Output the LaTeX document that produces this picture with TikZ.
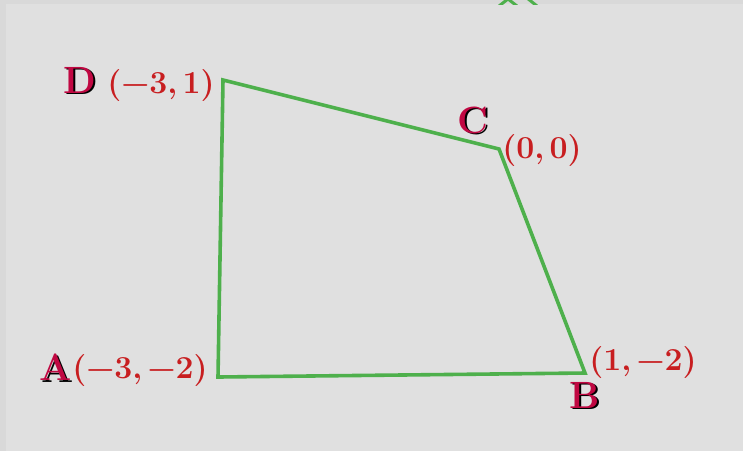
\documentclass[tikz,border=0pt]{standalone}
\usepackage{fontspec}
\usetikzlibrary{positioning, calc}
\definecolor{bgcol}{RGB}{224,224,224}
\definecolor{edgecol}{RGB}{217,217,217}
\definecolor{quadcol}{RGB}{78,176,76}
\definecolor{vertcol}{RGB}{192,8,66}
\definecolor{coordcol}{RGB}{200,30,32}
\newcommand{\shadowed}[1]{\rlap{\kern1.6pt\raisebox{-1.6pt}{\color{black}#1}}{\color{vertcol}#1}}
\tikzset{
    vertex/.style={inner sep=0pt, font=\fontsize{38}{40}\selectfont\bfseries},
    coord/.style={inner sep=0pt, text=coordcol, font=\fontsize{32}{34}\selectfont\bfseries},
    side/.style={draw=quadcol, line width=3.6pt, line join=miter}
}

\begin{document}
\begin{tikzpicture}[x=1pt, y=-1pt]
    % background
    \fill[edgecol] (0,0) rectangle (743,451);
    \fill[bgcol] (6,4) rectangle (743,451);
    \useasboundingbox (0,0) rectangle (743,451);

    % cut-off shape at the top edge
    \begin{scope}
        \clip (0,0) rectangle (743,4);
        \draw[quadcol, line width=3pt] (499,6) -- (508,-1) -- (517,6);
        \draw[quadcol, line width=3pt] (527,-2) -- (537,6);
    \end{scope}

    \coordinate (A) at (218,377);
    \coordinate (B) at (585,373);
    \coordinate (C) at (499,149);
    \coordinate (D) at (223,80);

    \draw[side] (A) -- (B) -- (C) -- (D) -- cycle;

    \node (labD) [vertex] at (80,81) {\shadowed{D}};
    \node (labC) [vertex] at (473,121) {\shadowed{C}};
    \node (labA) [vertex] at (56,368) {\shadowed{A}};
    \node (labB) [vertex] at (585,396) {\shadowed{B}};

    \node (crdD) [coord] at (161,86) {(−3,\,1)};
    \node (crdC) [coord] at (542,151) {(0,\,0)};
    \node (crdA) [coord] at (140,371) {(−3,\,−2)};
    \node (crdB) [coord] at (643,363) {(1,\,−2)};
\end{tikzpicture}
\end{document}
